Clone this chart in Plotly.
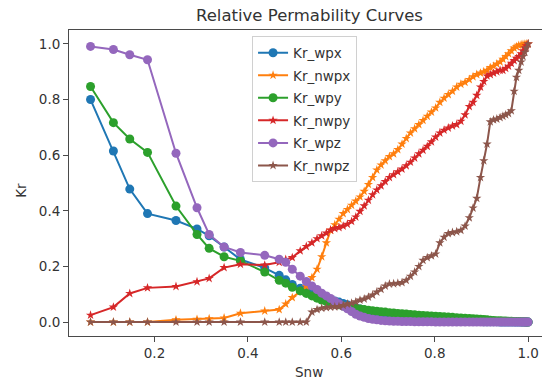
import plotly.graph_objects as go

snw = [0.063, 0.112, 0.147, 0.185, 0.246, 0.291, 0.317, 0.349, 0.384, 0.436,
       0.467, 0.481, 0.495, 0.512, 0.525, 0.537, 0.548, 0.558, 0.568, 0.577,
       0.586, 0.595, 0.604, 0.613, 0.622, 0.631, 0.640, 0.649, 0.658, 0.667,
       0.676, 0.685, 0.694, 0.703, 0.712, 0.721, 0.730, 0.739, 0.748, 0.757,
       0.766, 0.775, 0.784, 0.793, 0.802, 0.811, 0.820, 0.829, 0.838, 0.847,
       0.856, 0.865, 0.874, 0.882, 0.890, 0.898, 0.905, 0.912, 0.919, 0.926,
       0.933, 0.940, 0.946, 0.952, 0.958, 0.964, 0.970, 0.975, 0.980, 0.985,
       0.989, 0.993, 0.996, 1.000]

kr_wpx = [0.800, 0.615, 0.478, 0.390, 0.365, 0.335, 0.310, 0.270, 0.225, 0.195,
          0.168, 0.152, 0.135, 0.122, 0.112, 0.104, 0.097, 0.090, 0.085, 0.080,
          0.076, 0.072, 0.067, 0.062, 0.057, 0.052, 0.047, 0.043, 0.039, 0.035,
          0.032, 0.029, 0.026, 0.024, 0.022, 0.020, 0.018, 0.016, 0.015, 0.013,
          0.012, 0.011, 0.010, 0.009, 0.008, 0.007, 0.006, 0.005, 0.005, 0.004,
          0.004, 0.003, 0.003, 0.002, 0.002, 0.002, 0.001, 0.001, 0.001, 0.001,
          0.001, 0.000, 0.000, 0.000, 0.000, 0.000, 0.000, 0.000, 0.000, 0.000,
          0.000, 0.000, 0.000, 0.000]

kr_nwpx = [0.000, 0.000, 0.000, 0.000, 0.008, 0.010, 0.012, 0.015, 0.032, 0.040,
           0.045, 0.065, 0.088, 0.110, 0.128, 0.160, 0.190, 0.235, 0.285, 0.330,
           0.350, 0.370, 0.390, 0.405, 0.420, 0.435, 0.450, 0.470, 0.495, 0.520,
           0.547, 0.565, 0.580, 0.595, 0.605, 0.620, 0.640, 0.660, 0.680, 0.695,
           0.710, 0.725, 0.740, 0.755, 0.770, 0.790, 0.805, 0.818, 0.830, 0.845,
           0.855, 0.862, 0.872, 0.882, 0.890, 0.895, 0.900, 0.905, 0.915, 0.920,
           0.928, 0.935, 0.945, 0.955, 0.965, 0.975, 0.985, 0.990, 0.995, 0.997,
           0.998, 0.999, 1.000, 1.000]

kr_wpy = [0.847, 0.717, 0.658, 0.610, 0.417, 0.315, 0.265, 0.235, 0.220, 0.180,
          0.150, 0.140, 0.125, 0.112, 0.103, 0.094, 0.086, 0.079, 0.074, 0.070,
          0.066, 0.062, 0.058, 0.055, 0.052, 0.049, 0.047, 0.045, 0.043, 0.041,
          0.039, 0.037, 0.036, 0.034, 0.033, 0.031, 0.030, 0.029, 0.027, 0.026,
          0.025, 0.024, 0.023, 0.022, 0.021, 0.020, 0.019, 0.018, 0.017, 0.016,
          0.015, 0.014, 0.013, 0.012, 0.011, 0.010, 0.009, 0.008, 0.007, 0.006,
          0.005, 0.005, 0.004, 0.004, 0.003, 0.003, 0.002, 0.002, 0.002, 0.001,
          0.001, 0.001, 0.000, 0.000]

kr_nwpy = [0.025, 0.054, 0.103, 0.123, 0.128, 0.145, 0.157, 0.196, 0.208, 0.205,
           0.215, 0.225, 0.232, 0.256, 0.272, 0.285, 0.300, 0.310, 0.320, 0.331,
           0.336, 0.340, 0.345, 0.352, 0.362, 0.378, 0.398, 0.418, 0.438, 0.458,
           0.475, 0.490, 0.505, 0.520, 0.530, 0.540, 0.550, 0.562, 0.575, 0.590,
           0.605, 0.618, 0.632, 0.648, 0.665, 0.680, 0.690, 0.698, 0.705, 0.710,
           0.722, 0.745, 0.775, 0.790, 0.815, 0.845, 0.865, 0.885, 0.890, 0.895,
           0.900, 0.905, 0.905, 0.912, 0.920, 0.930, 0.940, 0.948, 0.955, 0.965,
           0.975, 0.985, 0.993, 1.000]

kr_wpz = [0.991, 0.980, 0.961, 0.943, 0.607, 0.411, 0.315, 0.270, 0.250, 0.240,
          0.226, 0.215, 0.190, 0.165, 0.146, 0.130, 0.117, 0.104, 0.094, 0.085,
          0.075, 0.066, 0.057, 0.048, 0.038, 0.028, 0.022, 0.017, 0.013, 0.010,
          0.008, 0.006, 0.005, 0.004, 0.003, 0.003, 0.002, 0.002, 0.002, 0.001,
          0.001, 0.001, 0.001, 0.001, 0.000, 0.000, 0.000, 0.000, 0.000, 0.000,
          0.000, 0.000, 0.000, 0.000, 0.000, 0.000, 0.000, 0.000, 0.000, 0.000,
          0.000, 0.000, 0.000, 0.000, 0.000, 0.000, 0.000, 0.000, 0.000, 0.000,
          0.000, 0.000, 0.000, 0.000]

kr_nwpz = [0.000, 0.000, 0.000, 0.000, 0.000, 0.000, 0.000, 0.000, 0.000, 0.000,
           0.000, 0.000, 0.000, 0.000, 0.000, 0.036, 0.045, 0.050, 0.052, 0.054,
           0.055, 0.056, 0.060, 0.065, 0.068, 0.073, 0.079, 0.083, 0.090, 0.097,
           0.108, 0.118, 0.130, 0.137, 0.138, 0.140, 0.142, 0.150, 0.165, 0.180,
           0.200, 0.222, 0.232, 0.238, 0.245, 0.285, 0.305, 0.318, 0.322, 0.325,
           0.330, 0.345, 0.375, 0.410, 0.445, 0.520, 0.580, 0.640, 0.720, 0.727,
           0.730, 0.735, 0.740, 0.745, 0.750, 0.760, 0.830, 0.880, 0.905, 0.935,
           0.955, 0.970, 0.985, 1.000]

series_names = ["Kr_wpx", "Kr_nwpx", "Kr_wpy", "Kr_nwpy", "Kr_wpz", "Kr_nwpz"]
series_values = [kr_wpx, kr_nwpx, kr_wpy, kr_nwpy, kr_wpz, kr_nwpz]
colors = ["#1f77b4", "#ff7f0e", "#2ca02c", "#d62728", "#9467bd", "#8c564b"]
symbols = ["circle", "star", "circle", "star", "circle", "star"]

x_tickvals = [0.2, 0.4, 0.6, 0.8, 1.0]
x_ticktext = ["0.2", "0.4", "0.6", "0.8", "1.0"]
y_tickvals = [0.0, 0.2, 0.4, 0.6, 0.8, 1.0]
y_ticktext = ["0.0", "0.2", "0.4", "0.6", "0.8", "1.0"]

FONT = "DejaVu Sans"
AX = "#4a4a4a"

fig = go.Figure()
for i, (name, vals) in enumerate(zip(series_names, series_values)):
    fig.add_trace(go.Scatter(
        x=snw, y=vals, mode="lines+markers", name=name,
        legendgroup=name,
        line=dict(color=colors[i], width=2),
        marker=dict(symbol=symbols[i], size=9 if symbols[i] == "circle" else 7,
                    color=colors[i]),
    ))

fig.update_layout(
    width=542, height=382,
    margin=dict(l=69, r=0, t=30, b=46),
    paper_bgcolor="white", plot_bgcolor="white",
    font=dict(family=FONT, size=13.5, color="#333"),
    title=dict(text="Relative Permability Curves", font=dict(size=16.5, color="#333"),
               xref="container", x=0.571, xanchor="center",
               yref="container", y=0.959, yanchor="middle"),
    legend=dict(x=0.387, y=0.979, xanchor="left", yanchor="top",
                bgcolor="rgba(255,255,255,0.85)", bordercolor="#d0d0d0", borderwidth=1,
                font=dict(size=13.5, color="#333"), tracegroupgap=2),
    showlegend=True,
)
fig.update_xaxes(range=[0.0169, 1.0297], tickvals=x_tickvals, ticktext=x_ticktext,
                 showline=True, linecolor=AX, linewidth=1, mirror=True,
                 ticks="outside", ticklen=5, tickcolor=AX, showgrid=False, zeroline=False)
fig.update_yaxes(range=[-0.05, 1.05], tickvals=y_tickvals, ticktext=y_ticktext,
                 showline=True, linecolor=AX, linewidth=1, mirror=False,
                 ticks="outside", ticklen=5, tickcolor=AX, showgrid=False, zeroline=False)

fig.add_annotation(text="Snw", xref="paper", yref="paper", x=0.508, y=-0.118,
                   xanchor="center", yanchor="middle", showarrow=False,
                   font=dict(size=13.5, color="#333"))
fig.add_annotation(text="Kr", xref="paper", yref="paper", x=-0.102, y=0.477,
                   xanchor="center", yanchor="middle", showarrow=False, textangle=-90,
                   font=dict(size=13.5, color="#333"))

fig.write_html("out.html")
